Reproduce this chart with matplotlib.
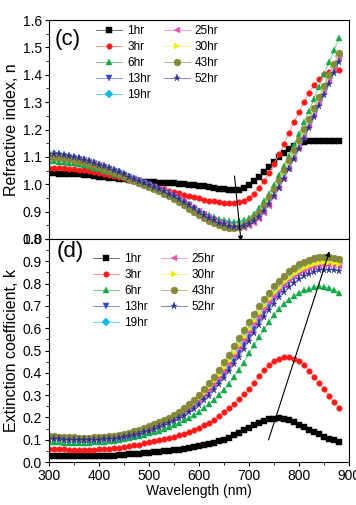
import matplotlib.pyplot as plt
import numpy as np

plt.rcParams['font.family'] = ['Liberation Sans', 'DejaVu Sans']

# wavelength grid (nm), 10 nm steps
wl = list(range(300, 890, 10))

labels = ['1hr', '3hr', '6hr', '13hr', '19hr', '25hr', '30hr', '43hr', '52hr']

# refractive index n (panel c)
n_1hr = [1.040, 1.040, 1.039, 1.039, 1.038, 1.037, 1.036, 1.034, 1.032, 1.030,
         1.028, 1.026, 1.024, 1.022, 1.020, 1.018, 1.016, 1.014, 1.012, 1.010,
         1.008, 1.007, 1.006, 1.005, 1.004, 1.003, 1.002, 1.000, 0.998, 0.996,
         0.994, 0.992, 0.989, 0.986, 0.983, 0.981, 0.979, 0.978, 0.980, 0.987,
         0.998, 1.012, 1.028, 1.046, 1.064, 1.082, 1.099, 1.115, 1.129, 1.141,
         1.150, 1.155, 1.157, 1.158, 1.158, 1.158, 1.158, 1.157, 1.157]
n_3hr = [1.060, 1.060, 1.059, 1.058, 1.057, 1.055, 1.053, 1.051, 1.048, 1.045,
         1.042, 1.038, 1.034, 1.030, 1.026, 1.022, 1.017, 1.012, 1.007, 1.002,
         0.997, 0.992, 0.987, 0.982, 0.977, 0.972, 0.967, 0.962, 0.957, 0.952,
         0.948, 0.944, 0.940, 0.937, 0.935, 0.933, 0.932, 0.932, 0.934, 0.940,
         0.950, 0.966, 0.987, 1.012, 1.041, 1.074, 1.110, 1.148, 1.187, 1.226,
         1.264, 1.300, 1.333, 1.362, 1.385, 1.401, 1.411, 1.416, 1.418]
n_6hr = [1.085, 1.084, 1.083, 1.081, 1.079, 1.076, 1.073, 1.069, 1.065, 1.060,
         1.055, 1.050, 1.044, 1.038, 1.032, 1.025, 1.018, 1.011, 1.004, 0.997,
         0.990, 0.983, 0.976, 0.968, 0.960, 0.952, 0.943, 0.933, 0.923, 0.913,
         0.903, 0.894, 0.886, 0.879, 0.873, 0.868, 0.865, 0.863, 0.864, 0.868,
         0.876, 0.891, 0.912, 0.937, 0.966, 0.998, 1.032, 1.068, 1.105, 1.144,
         1.184, 1.226, 1.269, 1.313, 1.357, 1.401, 1.445, 1.489, 1.534]
n_13hr = [1.105, 1.104, 1.102, 1.100, 1.097, 1.094, 1.090, 1.085, 1.080, 1.074,
          1.068, 1.062, 1.055, 1.048, 1.041, 1.034, 1.026, 1.018, 1.011, 1.003,
          0.996, 0.989, 0.981, 0.973, 0.965, 0.956, 0.946, 0.935, 0.923, 0.911,
          0.899, 0.888, 0.877, 0.868, 0.860, 0.854, 0.849, 0.846, 0.846, 0.849,
          0.857, 0.870, 0.888, 0.910, 0.937, 0.966, 0.998, 1.032, 1.067, 1.103,
          1.140, 1.178, 1.217, 1.257, 1.297, 1.337, 1.377, 1.416, 1.455]
n_19hr = [1.110, 1.109, 1.107, 1.104, 1.101, 1.097, 1.093, 1.088, 1.083, 1.077,
          1.071, 1.064, 1.057, 1.050, 1.043, 1.035, 1.027, 1.019, 1.011, 1.003,
          0.996, 0.988, 0.980, 0.972, 0.963, 0.954, 0.944, 0.933, 0.921, 0.909,
          0.897, 0.886, 0.876, 0.867, 0.859, 0.853, 0.849, 0.847, 0.848, 0.853,
          0.863, 0.878, 0.897, 0.920, 0.947, 0.977, 1.010, 1.044, 1.080, 1.116,
          1.153, 1.191, 1.229, 1.268, 1.307, 1.347, 1.387, 1.428, 1.470]
n_25hr = [1.108, 1.107, 1.105, 1.103, 1.100, 1.096, 1.092, 1.087, 1.082, 1.076,
          1.070, 1.063, 1.056, 1.049, 1.042, 1.035, 1.027, 1.019, 1.012, 1.004,
          0.997, 0.990, 0.982, 0.975, 0.967, 0.958, 0.948, 0.937, 0.925, 0.913,
          0.901, 0.890, 0.879, 0.870, 0.862, 0.856, 0.850, 0.845, 0.842, 0.842,
          0.847, 0.858, 0.874, 0.896, 0.922, 0.952, 0.985, 1.020, 1.056, 1.094,
          1.133, 1.173, 1.213, 1.254, 1.295, 1.336, 1.378, 1.420, 1.462]
n_30hr = [1.108, 1.107, 1.105, 1.102, 1.099, 1.095, 1.091, 1.086, 1.081, 1.075,
          1.069, 1.062, 1.055, 1.048, 1.041, 1.033, 1.025, 1.017, 1.009, 1.001,
          0.994, 0.986, 0.978, 0.970, 0.961, 0.952, 0.942, 0.931, 0.919, 0.907,
          0.895, 0.884, 0.874, 0.865, 0.857, 0.851, 0.847, 0.845, 0.846, 0.851,
          0.861, 0.876, 0.895, 0.918, 0.945, 0.975, 1.008, 1.042, 1.078, 1.115,
          1.153, 1.192, 1.231, 1.271, 1.311, 1.352, 1.393, 1.434, 1.475]
n_43hr = [1.100, 1.099, 1.097, 1.095, 1.092, 1.089, 1.085, 1.080, 1.075, 1.069,
          1.063, 1.057, 1.050, 1.043, 1.036, 1.029, 1.021, 1.013, 1.005, 0.997,
          0.990, 0.982, 0.974, 0.965, 0.956, 0.946, 0.935, 0.923, 0.911, 0.899,
          0.887, 0.876, 0.866, 0.857, 0.850, 0.845, 0.842, 0.842, 0.845, 0.852,
          0.864, 0.880, 0.900, 0.924, 0.952, 0.983, 1.016, 1.051, 1.087, 1.124,
          1.162, 1.201, 1.240, 1.280, 1.320, 1.360, 1.400, 1.440, 1.480]
n_52hr = [1.112, 1.111, 1.109, 1.106, 1.103, 1.099, 1.095, 1.090, 1.084, 1.078,
          1.072, 1.065, 1.058, 1.051, 1.044, 1.036, 1.028, 1.020, 1.012, 1.004,
          0.997, 0.990, 0.982, 0.974, 0.966, 0.957, 0.947, 0.936, 0.924, 0.912,
          0.900, 0.889, 0.878, 0.868, 0.860, 0.853, 0.848, 0.845, 0.844, 0.847,
          0.854, 0.866, 0.882, 0.903, 0.928, 0.957, 0.988, 1.021, 1.056, 1.092,
          1.129, 1.167, 1.206, 1.245, 1.285, 1.325, 1.366, 1.407, 1.448]

# extinction coefficient k (panel d)
k_1hr = [0.027, 0.027, 0.026, 0.026, 0.026, 0.025, 0.025, 0.025, 0.025, 0.026,
         0.026, 0.027, 0.028, 0.029, 0.030, 0.032, 0.034, 0.036, 0.038, 0.040,
         0.042, 0.044, 0.046, 0.048, 0.050, 0.053, 0.056, 0.059, 0.062, 0.066,
         0.070, 0.074, 0.079, 0.085, 0.092, 0.100, 0.109, 0.119, 0.130, 0.142,
         0.154, 0.165, 0.175, 0.184, 0.191, 0.195, 0.196, 0.193, 0.187, 0.178,
         0.168, 0.156, 0.145, 0.134, 0.124, 0.114, 0.105, 0.097, 0.090]
k_3hr = [0.060, 0.059, 0.058, 0.057, 0.056, 0.055, 0.055, 0.055, 0.055, 0.056,
         0.057, 0.058, 0.060, 0.062, 0.064, 0.067, 0.070, 0.074, 0.078, 0.083,
         0.088, 0.093, 0.098, 0.103, 0.108, 0.113, 0.119, 0.126, 0.134, 0.143,
         0.153, 0.164, 0.176, 0.190, 0.205, 0.222, 0.240, 0.260, 0.281, 0.303,
         0.326, 0.355, 0.385, 0.412, 0.436, 0.453, 0.464, 0.469, 0.469, 0.463,
         0.451, 0.433, 0.410, 0.383, 0.355, 0.326, 0.297, 0.268, 0.240]
k_6hr = [0.090, 0.089, 0.088, 0.087, 0.087, 0.086, 0.086, 0.086, 0.087, 0.088,
         0.089, 0.091, 0.093, 0.096, 0.099, 0.102, 0.106, 0.111, 0.116, 0.122,
         0.128, 0.134, 0.141, 0.149, 0.157, 0.166, 0.176, 0.187, 0.199, 0.212,
         0.226, 0.241, 0.258, 0.278, 0.300, 0.325, 0.352, 0.381, 0.413, 0.446,
         0.487, 0.524, 0.560, 0.595, 0.628, 0.658, 0.685, 0.708, 0.728, 0.745,
         0.758, 0.770, 0.778, 0.784, 0.787, 0.786, 0.781, 0.772, 0.760]
k_13hr = [0.105, 0.104, 0.102, 0.101, 0.100, 0.099, 0.098, 0.098, 0.098, 0.099,
          0.100, 0.102, 0.104, 0.107, 0.110, 0.114, 0.119, 0.124, 0.130, 0.137,
          0.145, 0.153, 0.162, 0.171, 0.181, 0.191, 0.202, 0.215, 0.230, 0.247,
          0.266, 0.287, 0.310, 0.335, 0.362, 0.391, 0.422, 0.455, 0.490, 0.526,
          0.562, 0.598, 0.634, 0.668, 0.700, 0.730, 0.758, 0.783, 0.805, 0.824,
          0.840, 0.854, 0.866, 0.876, 0.884, 0.889, 0.892, 0.893, 0.892]
k_19hr = [0.108, 0.107, 0.105, 0.104, 0.103, 0.102, 0.101, 0.101, 0.101, 0.102,
          0.103, 0.105, 0.107, 0.110, 0.113, 0.117, 0.122, 0.128, 0.135, 0.143,
          0.151, 0.160, 0.169, 0.179, 0.189, 0.200, 0.212, 0.226, 0.243, 0.262,
          0.283, 0.305, 0.330, 0.356, 0.385, 0.415, 0.448, 0.482, 0.518, 0.554,
          0.590, 0.626, 0.660, 0.693, 0.724, 0.752, 0.778, 0.801, 0.821, 0.839,
          0.854, 0.867, 0.878, 0.886, 0.892, 0.896, 0.897, 0.896, 0.893]
k_25hr = [0.108, 0.106, 0.104, 0.103, 0.102, 0.101, 0.100, 0.100, 0.100, 0.101,
          0.102, 0.104, 0.106, 0.109, 0.112, 0.116, 0.121, 0.127, 0.134, 0.142,
          0.150, 0.159, 0.168, 0.178, 0.188, 0.198, 0.210, 0.224, 0.240, 0.258,
          0.278, 0.300, 0.324, 0.350, 0.378, 0.408, 0.440, 0.474, 0.509, 0.545,
          0.581, 0.617, 0.652, 0.686, 0.717, 0.746, 0.772, 0.795, 0.815, 0.832,
          0.846, 0.858, 0.868, 0.875, 0.880, 0.883, 0.884, 0.882, 0.878]
k_30hr = [0.110, 0.108, 0.106, 0.105, 0.104, 0.103, 0.102, 0.102, 0.102, 0.103,
          0.104, 0.106, 0.108, 0.111, 0.115, 0.119, 0.124, 0.130, 0.137, 0.145,
          0.153, 0.162, 0.171, 0.181, 0.191, 0.202, 0.215, 0.230, 0.247, 0.266,
          0.287, 0.310, 0.335, 0.362, 0.391, 0.422, 0.455, 0.490, 0.526, 0.562,
          0.598, 0.633, 0.667, 0.699, 0.729, 0.757, 0.782, 0.805, 0.825, 0.842,
          0.857, 0.869, 0.879, 0.887, 0.892, 0.895, 0.896, 0.894, 0.890]
k_43hr = [0.117, 0.115, 0.113, 0.112, 0.111, 0.110, 0.109, 0.109, 0.109, 0.110,
          0.111, 0.113, 0.115, 0.118, 0.122, 0.126, 0.131, 0.137, 0.144, 0.152,
          0.160, 0.169, 0.178, 0.188, 0.198, 0.211, 0.224, 0.240, 0.258, 0.279,
          0.302, 0.327, 0.354, 0.383, 0.414, 0.447, 0.482, 0.518, 0.555, 0.592,
          0.628, 0.664, 0.698, 0.730, 0.760, 0.788, 0.813, 0.836, 0.856, 0.872,
          0.886, 0.897, 0.906, 0.913, 0.918, 0.920, 0.919, 0.916, 0.910]
k_52hr = [0.104, 0.103, 0.101, 0.100, 0.099, 0.098, 0.097, 0.097, 0.097, 0.098,
          0.099, 0.101, 0.103, 0.105, 0.108, 0.112, 0.116, 0.121, 0.127, 0.133,
          0.140, 0.148, 0.156, 0.165, 0.175, 0.185, 0.196, 0.208, 0.222, 0.238,
          0.256, 0.276, 0.298, 0.322, 0.348, 0.376, 0.406, 0.438, 0.472, 0.507,
          0.543, 0.579, 0.614, 0.648, 0.680, 0.710, 0.738, 0.763, 0.785, 0.804,
          0.820, 0.834, 0.845, 0.853, 0.859, 0.862, 0.863, 0.862, 0.858]

n_series = [n_1hr, n_3hr, n_6hr, n_13hr, n_19hr, n_25hr, n_30hr, n_43hr, n_52hr]
k_series = [k_1hr, k_3hr, k_6hr, k_13hr, k_19hr, k_25hr, k_30hr, k_43hr, k_52hr]

marker_colors = ['#000000', '#ff1a1a', '#12a84a', '#3a44c6', '#13b4e8',
                 '#e458b2', '#f2ee10', '#86893c', '#2c2f8e']
line_colors = ['#7a6a6a', '#ff9a8a', '#7ccf8a', '#8a90e0', '#70d4f2',
               '#f0a0d0', '#f6f290', '#b8b882', '#8086c8']
markers = ['s', 'o', '^', 'v', 'D', '<', '>', 'o', '*']
msizes = [3.8, 4.0, 4.5, 4.5, 3.6, 4.5, 4.5, 5.0, 5.2]

fig = plt.figure(figsize=(3.56, 5.05), dpi=100)
ax1 = fig.add_axes([49 / 356, (505 - 239) / 505, 300 / 356, 219 / 505])
ax2 = fig.add_axes([49 / 356, (505 - 462) / 505, 300 / 356, 223 / 505])

for ax, data in [(ax1, n_series), (ax2, k_series)]:
    for i in range(len(labels)):
        ax.plot(wl, data[i], color=line_colors[i], lw=0.7,
                marker=markers[i], markersize=msizes[i],
                markerfacecolor=marker_colors[i], markeredgecolor=marker_colors[i],
                markeredgewidth=0.3, label=labels[i])
    ax.set_xlim(300, 900)
    ax.tick_params(direction='out', length=3, width=0.8, labelsize=10,
                   top=False, right=False, pad=2)
    ax.tick_params(which='minor', direction='out', length=2, width=0.6)
    ax.set_xticks(np.arange(300, 901, 100))
    ax.set_xticks(np.arange(350, 900, 100), minor=True)
    for s in ax.spines.values():
        s.set_linewidth(0.8)
    ax.legend(loc='upper left', ncol=2, frameon=False, fontsize=8.5,
              handlelength=2.2, handletextpad=0.4, columnspacing=1.1,
              labelspacing=0.33, borderpad=0, borderaxespad=0,
              numpoints=1,
              bbox_to_anchor=(0.158, 0.975) if ax is ax1 else (0.148, 0.935))

ax1.set_ylim(0.8, 1.6)
ax1.set_yticks(np.arange(0.8, 1.61, 0.1))
ax1.set_yticks(np.arange(0.85, 1.6, 0.1), minor=True)
ax1.yaxis.set_major_formatter(plt.FormatStrFormatter('%.1f'))
ax1.tick_params(axis='x', which='both', bottom=False, labelbottom=False)
ax1.set_ylabel('Refractive index, n', fontsize=11.5)
ax1.yaxis.set_label_coords(-0.1, 0.5)
ax1.text(0.02, 0.96, '(c)', transform=ax1.transAxes, fontsize=16,
         ha='left', va='top')
ax1.annotate('', xy=(684, 0.792), xytext=(671, 1.03),
             arrowprops=dict(arrowstyle='-|>', color='black', lw=0.8,
                             mutation_scale=7, shrinkA=0, shrinkB=0),
             annotation_clip=False)

ax2.set_ylim(0.0, 1.0)
ax2.set_yticks(np.arange(0.0, 1.01, 0.1))
ax2.set_yticks(np.arange(0.05, 1.0, 0.1), minor=True)
ax2.yaxis.set_major_formatter(plt.FormatStrFormatter('%.1f'))
ax2.set_ylabel('Extinction coefficient, k', fontsize=11.5)
ax2.yaxis.set_label_coords(-0.1, 0.5)
ax2.set_xlabel('Wavelength (nm)', fontsize=10, labelpad=1)
ax2.text(0.025, 0.99, '(d)', transform=ax2.transAxes, fontsize=16,
         ha='left', va='top')
ax2.annotate('', xy=(861, 0.945), xytext=(739, 0.099),
             arrowprops=dict(arrowstyle='-|>', color='black', lw=0.8,
                             mutation_scale=7, shrinkA=0, shrinkB=0),
             annotation_clip=False)

fig.savefig('out.png', dpi=100)
